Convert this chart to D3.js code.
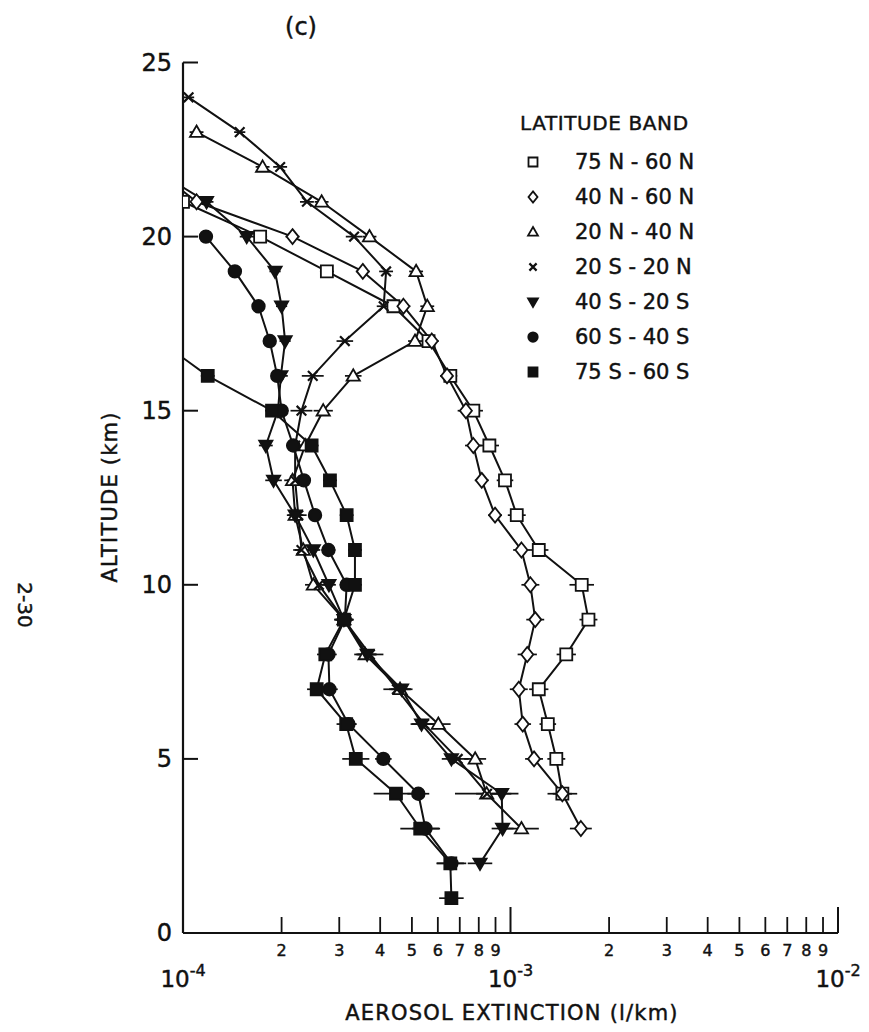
<!DOCTYPE html>
<html>
<head>
<meta charset="utf-8">
<script src="https://cdn.jsdelivr.net/npm/d3@7"></script>
<style>
  html, body { margin: 0; padding: 0; background: #fff; }
  svg { display: block; }
  text { font-family: "DejaVu Sans", "Liberation Sans", sans-serif; fill: #111; stroke: #111; stroke-width: 0.45px; }
</style>
</head>
<body>
<svg id="chart" width="869" height="1032"></svg>
<script>
// ---------------- DATA (extinction in units of 1e-4 per km) ----------------
// each entry: [altitude km, extinction (x1e-4 /km), relative error half-width]
const band75N60N = [[21,1.00,0],[20,1.72,0.05],[19,2.75,0.05],[18,4.39,0.05],[17,5.62,0.05],[16,6.55,0.05],[15,7.70,0.07],[14,8.62,0.07],[13,9.62,0.06],[12,10.45,0.065],[11,12.2,0.07],[10,16.5,0.09],[9,17.3,0.065],[8,14.8,0.07],[7,12.2,0.07],[6,13.0,0.06],[5,13.8,0.065],[4,14.4,0.11]];
const band40N60N = [[22,0.80,0],[21,1.10,0.04],[20,2.16,0.05],[19,3.54,0.05],[18,4.71,0.05],[17,5.75,0.05],[16,6.40,0.05],[15,7.31,0.06],[14,7.70,0.06],[13,8.17,0.05],[12,8.97,0.05],[11,10.8,0.06],[10,11.5,0.065],[9,11.9,0.065],[8,11.25,0.07],[7,10.6,0.065],[6,10.9,0.06],[5,11.8,0.065],[4,14.4,0.07],[3,16.4,0.08]];
const band20N40N = [[23,1.10,0.05],[22,1.75,0.05],[21,2.65,0.05],[20,3.71,0.05],[19,5.15,0.05],[18,5.57,0.05],[17,5.11,0.05],[16,3.31,0.06],[15,2.68,0.07],[14,2.36,0.07],[13,2.16,0.06],[12,2.20,0.06],[11,2.33,0.06],[10,2.50,0.06],[9,3.10,0.07],[8,3.60,0.08],[7,4.60,0.08],[6,6.02,0.09],[5,7.80,0.08],[4,8.46,0.25],[3,10.8,0.13]];
const band20S20N = [[24,1.04,0.04],[23,1.49,0.04],[22,1.98,0.05],[21,2.39,0.05],[20,3.33,0.06],[19,4.17,0.05],[18,4.10,0.05],[17,3.12,0.06],[16,2.49,0.08],[15,2.30,0.08],[14,2.20,0.06],[13,2.20,0.06],[12,2.25,0.06],[11,2.30,0.06],[10,2.60,0.06],[9,3.10,0.07],[8,3.72,0.10],[7,4.50,0.10],[6,5.45,0.09],[5,6.90,0.08],[4,8.48,0.08]];
const band40S20S = [[22,0.79,0],[21,1.18,0.05],[20,1.565,0.05],[19,1.91,0.04],[18,2.00,0.04],[17,2.05,0.04],[16,1.99,0.05],[15,1.95,0.05],[14,1.79,0.05],[13,1.89,0.06],[12,2.20,0.05],[11,2.50,0.05],[10,2.79,0.05],[9,3.10,0.06],[8,3.65,0.07],[7,4.65,0.08],[6,5.35,0.08],[5,6.60,0.07],[4,9.40,0.07],[3,9.46,0.08],[2,8.07,0.09]];
const band60S40S = [[20,1.175,0.04],[19,1.44,0.04],[18,1.70,0.04],[17,1.84,0.04],[16,1.94,0.04],[15,2.00,0.05],[14,2.17,0.05],[13,2.34,0.05],[12,2.53,0.05],[11,2.78,0.05],[10,3.16,0.05],[9,3.12,0.06],[8,2.78,0.06],[7,2.80,0.06],[6,3.20,0.06],[5,4.09,0.06],[4,5.23,0.08],[3,5.50,0.10],[2,6.60,0.11]];
const band75S60S = [[17,0.85,0],[16,1.19,0.05],[15,1.87,0.05],[14,2.47,0.05],[13,2.81,0.05],[12,3.16,0.05],[11,3.35,0.05],[10,3.35,0.05],[9,3.10,0.06],[8,2.72,0.06],[7,2.56,0.07],[6,3.15,0.07],[5,3.37,0.10],[4,4.47,0.17],[3,5.30,0.15],[2,6.55,0.10],[1,6.60,0.09]];

const bandNames = ["75 N - 60 N","40 N - 60 N","20 N - 40 N","20 S - 20 N","40 S - 20 S","60 S - 40 S","75 S - 60 S"];
const bandMarkers = ["square","diamond","triangle","cross","triangleDown","circle","squareFilled"];
const bandData = [band75N60N, band40N60N, band20N40N, band20S20N, band40S20S, band60S40S, band75S60S];

const yTicks = [0,5,10,15,20,25];
const xDecades = [1e-4, 1e-3, 1e-2];
const decadeExponents = ["-4","-3","-2"];
const minorDigits = [2,3,4,5,6,7,8,9];
const UNIT = 1e-4;

// ---------------- LAYOUT ----------------
const svg = d3.select("#chart");
const X0 = 183, X1 = 838, Y0 = 933, Y1 = 62.5;
const x = d3.scaleLog().domain([1e-4, 1e-2]).range([X0, X1]);
const y = d3.scaleLinear().domain([0, 25]).range([Y0, Y1]);
const INK = "#111";

svg.append("defs").append("clipPath").attr("id","plotclip")
  .append("rect").attr("x", X0).attr("y", Y1 - 20).attr("width", X1 - X0 + 20).attr("height", Y0 - Y1 + 20);

// axes lines
svg.append("line").attr("x1", X0).attr("x2", X0).attr("y1", y(25)).attr("y2", y(0))
  .attr("stroke", INK).attr("stroke-width", 2.2);
svg.append("line").attr("x1", X0).attr("x2", X1).attr("y1", y(0)).attr("y2", y(0))
  .attr("stroke", INK).attr("stroke-width", 2.2);

// y ticks (inward) and labels
yTicks.forEach(t => {
  if (t > 0) svg.append("line").attr("x1", X0).attr("x2", X0 + 15).attr("y1", y(t)).attr("y2", y(t))
    .attr("stroke", INK).attr("stroke-width", 2);
  svg.append("text").attr("x", 172).attr("y", y(t)).attr("text-anchor","end")
    .attr("dominant-baseline","central").attr("font-size", 24).text(t);
});

// x ticks
const minorVals = [];
[1e-4, 1e-3].forEach(d => minorDigits.forEach(m => minorVals.push(m * d)));
minorVals.forEach(v => {
  svg.append("line").attr("x1", x(v)).attr("x2", x(v)).attr("y1", y(0)).attr("y2", y(0) - 16)
    .attr("stroke", INK).attr("stroke-width", 1.8);
  const digit = Math.round(v / Math.pow(10, Math.floor(Math.log10(v) + 1e-9)));
  svg.append("text").attr("x", x(v)).attr("y", 950).attr("text-anchor","middle")
    .attr("dominant-baseline","central").attr("font-size", 16).text(digit);
});
xDecades.forEach((v, i) => {
  if (i > 0) svg.append("line").attr("x1", x(v)).attr("x2", x(v)).attr("y1", y(0)).attr("y2", y(0) - 26)
    .attr("stroke", INK).attr("stroke-width", 2);
  const t = svg.append("text").attr("x", x(v)).attr("y", 987).attr("text-anchor","middle").attr("font-size", 23);
  t.append("tspan").text("10");
  t.append("tspan").attr("dy", -11).attr("font-size", 16).text(decadeExponents[i]);
});

// titles
svg.append("text").attr("x", 301).attr("y", 27).attr("text-anchor","middle")
  .attr("dominant-baseline","central").attr("font-size", 24).text("(c)");
svg.append("text").attr("transform","translate(117,497) rotate(-90)").attr("text-anchor","middle")
  .attr("font-size", 21).attr("letter-spacing", 1.2).text("ALTITUDE (km)");
svg.append("text").attr("x", 512).attr("y", 1020).attr("text-anchor","middle")
  .attr("font-size", 21).attr("letter-spacing", 1.2).text("AEROSOL EXTINCTION (l/km)");
svg.append("text").attr("transform","translate(18,605) rotate(90)").attr("text-anchor","middle")
  .attr("font-size", 20).text("2-30");

// ---------------- MARKERS ----------------
function markerPath(type, s) {
  const h = s / 2;
  switch (type) {
    case "square": case "squareFilled":
      return `M${-h},${-h}H${h}V${h}H${-h}Z`;
    case "diamond":
      return `M0,${-h*1.25}L${h},0L0,${h*1.25}L${-h},0Z`;
    case "triangle":
      return `M0,${-h*1.1}L${h*1.1},${h*0.8}L${-h*1.1},${h*0.8}Z`;
    case "triangleDown":
      return `M${-h*1.1},${-h*0.8}L${h*1.1},${-h*0.8}L0,${h*1.1}Z`;
    case "circle":
      return d3.arc()({innerRadius:0, outerRadius:h*1.05, startAngle:0, endAngle:2*Math.PI});
    case "cross":
      return `M${-h*0.8},${-h*0.8}L${h*0.8},${h*0.8}M${h*0.8},${-h*0.8}L${-h*0.8},${h*0.8}`;
  }
}
function drawMarker(g, type, cx, cy, s) {
  const filled = (type === "squareFilled" || type === "triangleDown" || type === "circle");
  g.append("path").attr("d", markerPath(type, s)).attr("transform", `translate(${cx},${cy})`)
    .attr("fill", type === "cross" ? "none" : (filled ? INK : "#fff"))
    .attr("stroke", INK).attr("stroke-width", type === "cross" ? 2.2 : 1.8);
}

// ---------------- SERIES ----------------
const plot = svg.append("g").attr("clip-path","url(#plotclip)");
const line = d3.line().x(d => x(d[1] * UNIT)).y(d => y(d[0]));

bandData.forEach(series => {
  plot.append("path").datum(series).attr("d", line).attr("fill","none")
    .attr("stroke", INK).attr("stroke-width", 2).attr("stroke-linejoin","round");
});
bandData.forEach(series => {
  series.forEach(d => {
    if (d[2] > 0) {
      const v = d[1] * UNIT;
      plot.append("line").attr("x1", x(v / (1 + d[2]))).attr("x2", x(v * (1 + d[2])))
        .attr("y1", y(d[0])).attr("y2", y(d[0])).attr("stroke", INK).attr("stroke-width", 1.7);
    }
  });
});
bandData.forEach((series, i) => {
  series.forEach(d => {
    const v = d[1] * UNIT;
    if (v >= 1e-4 * 0.99) drawMarker(plot, bandMarkers[i], x(v), y(d[0]), 12);
  });
});

// ---------------- LEGEND ----------------
const lg = svg.append("g");
lg.append("text").attr("x", 520).attr("y", 123).attr("dominant-baseline","central")
  .attr("font-size", 20).attr("letter-spacing", 0.6).text("LATITUDE BAND");
bandNames.forEach((name, i) => {
  const cy = 162 + 35 * i;
  drawMarker(lg, bandMarkers[i], 533, cy, 9);
  lg.append("text").attr("x", 575).attr("y", cy).attr("dominant-baseline","central")
    .attr("font-size", 21).text(name);
});
</script>
</body>
</html>
